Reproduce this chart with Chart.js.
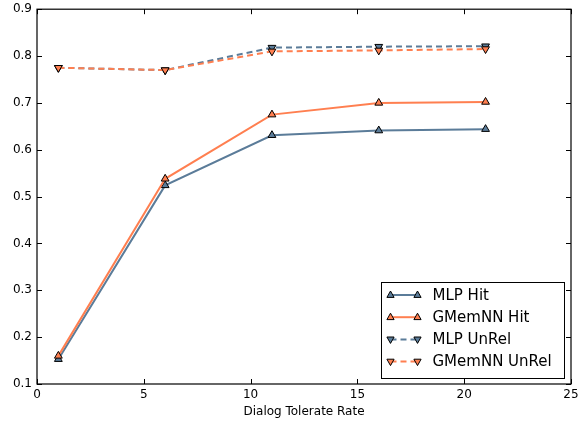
<!DOCTYPE html>
<html>
<head>
<meta charset="utf-8">
<script src="https://cdn.jsdelivr.net/npm/chart.js@4/dist/chart.umd.min.js"></script>
<style>
  html, body { margin: 0; padding: 0; background: #fff; overflow: hidden; }
  #wrap { width: 587px; height: 426px; position: relative; top: -3px; }
</style>
</head>
<body>
<div id="wrap"><canvas id="c"></canvas></div>
<script>
const xValues = [1, 6, 11, 16, 21]
const mlpHit = [0.153, 0.524, 0.631, 0.641, 0.644]
const gmemHit = [0.160, 0.538, 0.675, 0.700, 0.702]
const mlpUnrel = [0.775, 0.770, 0.818, 0.820, 0.821]
const gmemUnrel = [0.775, 0.770, 0.810, 0.812, 0.815]
const seriesNames = ['MLP Hit', 'GMemNN Hit', 'MLP UnRel', 'GMemNN UnRel']

const BLUE = '#5b7c99'
const CORAL = '#ff7f50'
const FONT = "'DejaVu Sans', sans-serif"

const pts = ys => ys.map((y, i) => ({ x: xValues[i], y }))

function series(label, data, color, down, dashed, order) {
    return {
        label,
        data: pts(data),
        borderColor: color,
        backgroundColor: color,
        borderWidth: 2,
        borderDash: dashed ? [6, 4] : [],
        pointStyle: 'triangle',
        rotation: down ? 180 : 0,
        pointRadius: 4.5,
        pointBorderColor: '#000',
        pointBackgroundColor: color,
        pointBorderWidth: 1,
        tension: 0,
        order
    }
}

// inward ticks on all four sides + frame + legend box
const framePlugin = {
    id: 'frame',
    afterDraw(chart) {
        const { ctx, chartArea: a, scales: { x, y } } = chart
        ctx.save()
        ctx.strokeStyle = '#000'
        ctx.lineWidth = 1
        ctx.beginPath()
        for (const t of x.ticks) {
            const px = Math.round(x.getPixelForValue(t.value)) + 0.5
            ctx.moveTo(px, a.bottom); ctx.lineTo(px, a.bottom - 5)
            ctx.moveTo(px, a.top); ctx.lineTo(px, a.top + 5)
        }
        for (const t of y.ticks) {
            const py = Math.round(y.getPixelForValue(t.value)) + 0.5
            ctx.moveTo(a.left, py); ctx.lineTo(a.left + 5, py)
            ctx.moveTo(a.right, py); ctx.lineTo(a.right - 5, py)
        }
        ctx.stroke()
        ctx.lineWidth = 1.2
        ctx.strokeRect(a.left, a.top, a.right - a.left, a.bottom - a.top)

        // legend
        const bx = 381.5, by = 285.5, bw = 183, bh = 96
        ctx.fillStyle = '#fff'
        ctx.fillRect(bx, by, bw, bh)
        ctx.lineWidth = 1
        ctx.strokeStyle = '#000'
        ctx.strokeRect(bx, by, bw, bh)
        ctx.font = '15px ' + FONT
        ctx.textBaseline = 'middle'
        chart.data.datasets.forEach((ds, i) => {
            const ly = by + 12.5 + i * 22.2
            ctx.strokeStyle = ds.borderColor
            ctx.lineWidth = 2
            ctx.setLineDash(ds.borderDash)
            ctx.beginPath()
            ctx.moveTo(bx + 9, ly); ctx.lineTo(bx + 36, ly)
            ctx.stroke()
            ctx.setLineDash([])
            for (const mx of [bx + 9, bx + 36]) {
                ctx.save()
                ctx.translate(mx, ly)
                if (ds.rotation) ctx.rotate(Math.PI)
                const r = 4
                ctx.beginPath()
                ctx.moveTo(0, -r)
                ctx.lineTo(r * 0.9, r * 0.6)
                ctx.lineTo(-r * 0.9, r * 0.6)
                ctx.closePath()
                ctx.fillStyle = ds.pointBackgroundColor
                ctx.fill()
                ctx.strokeStyle = '#000'
                ctx.lineWidth = 1
                ctx.stroke()
                ctx.restore()
            }
            ctx.fillStyle = '#000'
            ctx.fillText(ds.label, bx + 51, ly + 1)
        })
        ctx.restore()
    }
}

new Chart(document.getElementById('c'), {
    type: 'line',
    data: {
        datasets: [
            series(seriesNames[0], mlpHit, BLUE, false, false, 4),
            series(seriesNames[1], gmemHit, CORAL, false, false, 3),
            series(seriesNames[2], mlpUnrel, BLUE, true, true, 2),
            series(seriesNames[3], gmemUnrel, CORAL, true, true, 1)
        ]
    },
    options: {
        responsive: true,
        maintainAspectRatio: false,
        animation: false,
        layout: { padding: { top: 1, right: 16, left: 0, bottom: 0 } },
        plugins: {
            legend: { display: false },
            tooltip: { enabled: false }
        },
        scales: {
            x: {
                type: 'linear',
                min: 0,
                max: 25,
                ticks: { stepSize: 5, color: '#000', font: { family: FONT, size: 12 }, padding: 4 },
                grid: { display: false, drawTicks: false },
                border: { display: false },
                title: { display: true, text: 'Dialog Tolerate Rate', color: '#000', font: { family: FONT, size: 12 }, padding: { top: 3 } },
                afterFit: s => { s.height = 39 }
            },
            y: {
                min: 0.1,
                max: 0.9,
                ticks: {
                    stepSize: 0.1,
                    color: '#000',
                    font: { family: FONT, size: 12 },
                    padding: 5,
                    callback: v => (Math.round(v * 10) / 10).toFixed(1)
                },
                grid: { display: false, drawTicks: false },
                border: { display: false },
                afterFit: s => { s.width = 37 }
            }
        }
    },
    plugins: [framePlugin]
})
</script>
</body>
</html>
